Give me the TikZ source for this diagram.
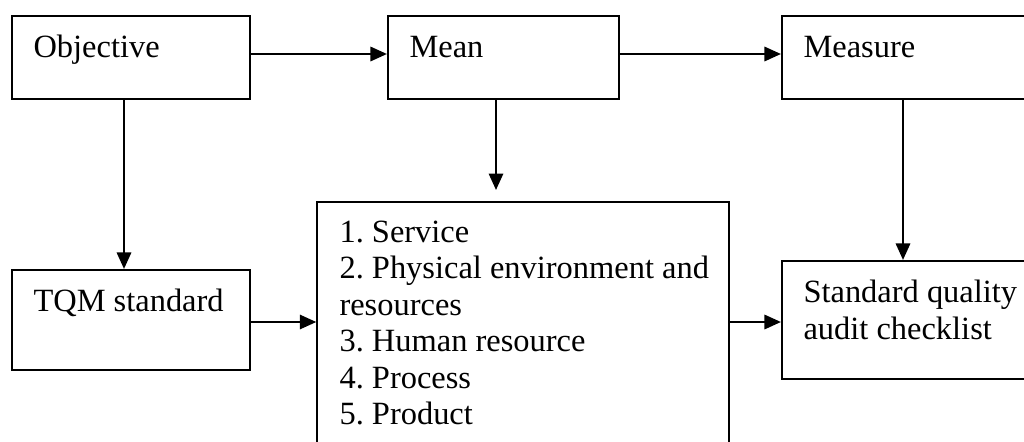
\documentclass[tikz,border=0pt]{standalone}
\usepackage{fontspec}
\setmainfont{Liberation Serif}
\usetikzlibrary{arrows.meta,fit}
\begin{document}
\frenchspacing
\begin{tikzpicture}[x=0.376pt,y=-0.376pt,
  box/.style={draw, line width=0.8pt, inner sep=0pt},
  thinbox/.style={draw, line width=0.55pt, inner sep=0pt},
  txt/.style={inner sep=0pt, anchor=base west, font=\fontsize{12.2}{13.8}\selectfont},
  arr/.style={line width=0.8pt, -{Triangle[length=6.2pt,width=5.4pt]}}]
\useasboundingbox (0,0) rectangle (1024,441);
\clip (0,0) rectangle (1024,441);
% boxes
\node[box, fit={(12,16) (250,99)}] (obj) {};
\node[box, fit={(388,16) (619,99)}] (mean) {};
\node[box, fit={(782,16) (1040,99)}] (meas) {};
\node[box, fit={(12,270) (250,370)}] (tqm) {};
\node[thinbox, fit={(317,202) (729,460)}] (mid) {};
\node[box, fit={(782,261) (1040,379)}] (sq) {};
% texts
\node[txt] (tobj) at (33,57) {Objective};
\node[txt] (tmean) at (409,57) {Mean};
\node[txt] (tmeas) at (803,57) {Measure};
\node[txt] (ttqm) at (33,311) {TQM standard};
\node[txt] (m1) at (339,242) {1. Service};
\node[txt] (m2) at (339,278.5) {2. Physical environment and};
\node[txt] (m3) at (339,315) {resources};
\node[txt] (m4) at (339,351.5) {3. Human resource};
\node[txt] (m5) at (339,388) {4. Process};
\node[txt] (m6) at (339,424.5) {5. Product};
\node[txt] (sq1) at (803,302) {Standard quality};
\node[txt] (sq2) at (803,339) {audit checklist};
% helper coordinates
\coordinate (ytop) at (0,54);
\coordinate (ymid) at (0,322);
\coordinate (xa) at (124,0);
\coordinate (xb) at (496,0);
\coordinate (xc) at (903,0);
\coordinate (meanend) at (496,190);
% connectors
\draw[arr] (obj.east |- ytop) -- (mean.west |- ytop);
\draw[arr] (mean.east |- ytop) -- (meas.west |- ytop);
\draw[arr] (obj.south -| xa) -- (tqm.north -| xa);
\draw[arr] (mean.south -| xb) -- (meanend);
\draw[arr] (meas.south -| xc) -- (sq.north -| xc);
\draw[arr] (tqm.east |- ymid) -- (mid.west |- ymid);
\draw[arr] (mid.east |- ymid) -- (sq.west |- ymid);
\end{tikzpicture}
\end{document}
